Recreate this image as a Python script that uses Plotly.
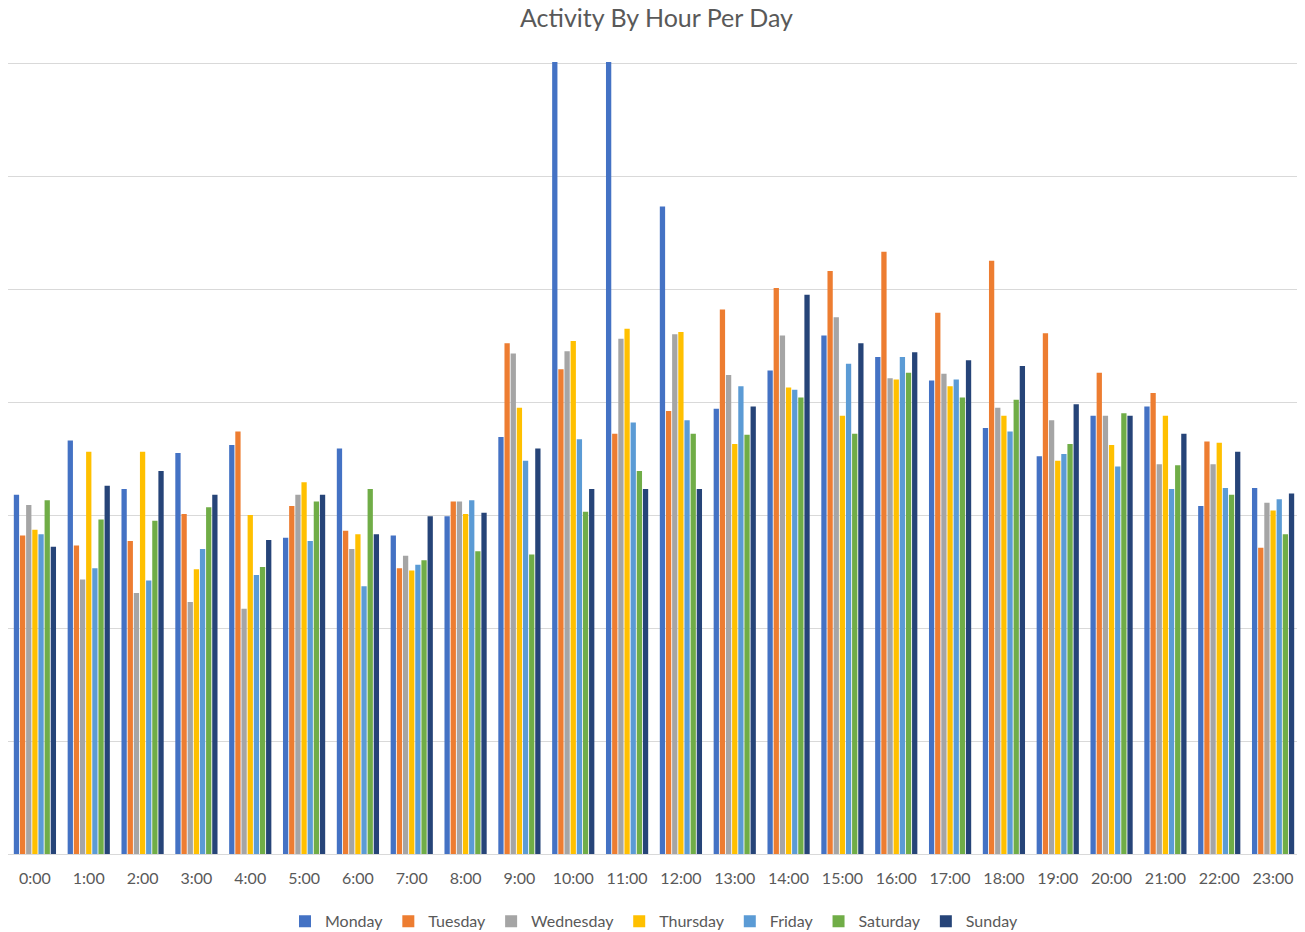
import plotly.graph_objects as go

# Hour categories along the x axis
hours = [f"{h}:00" for h in range(24)]

days = ["Monday", "Tuesday", "Wednesday", "Thursday", "Friday", "Saturday", "Sunday"]
day_colors = ["#4472C4", "#ED7D31", "#A5A5A5", "#FFC000", "#5B9BD5", "#70AD47", "#264478"]

# Activity per hour, one list per day
monday = [318, 366, 323, 355, 362, 280, 359, 282, 299, 369, 760, 740,
          573, 394, 428, 459, 440, 419, 377, 352, 388, 396, 308, 324]
tuesday = [282, 273, 277, 301, 374, 308, 286, 253, 312, 452, 429, 372,
           392, 482, 501, 516, 533, 479, 525, 461, 426, 408, 365, 271]
wednesday = [309, 243, 231, 223, 217, 318, 270, 264, 312, 443, 445, 456,
             460, 424, 459, 475, 421, 425, 395, 384, 388, 345, 345, 311]
thursday = [287, 356, 356, 252, 300, 329, 283, 251, 301, 395, 454, 465,
            462, 363, 413, 388, 420, 414, 388, 348, 362, 388, 364, 304]
friday = [283, 253, 242, 270, 247, 277, 237, 256, 313, 348, 367, 382,
          384, 414, 411, 434, 440, 420, 374, 354, 343, 323, 324, 314]
saturday = [313, 296, 295, 307, 254, 312, 323, 260, 268, 265, 303, 339,
            372, 371, 404, 372, 426, 404, 402, 363, 390, 344, 318, 283]
sunday = [272, 326, 339, 318, 278, 318, 283, 299, 302, 359, 323, 323,
          323, 396, 495, 452, 444, 437, 432, 398, 388, 372, 356, 319]

series = [monday, tuesday, wednesday, thursday, friday, saturday, sunday]

font_family = "Lato, 'Open Sans', sans-serif"
text_color = "#595959"

# the page body adds an 8px margin, so the figure is a bit smaller than the window
fig_w, fig_h = 1297, 924

fig = go.Figure()
for name, color, values in zip(days, day_colors, series):
    fig.add_trace(go.Bar(
        x=hours,
        y=values,
        name=name,
        marker=dict(color=color, line=dict(width=0)),
    ))

fig.update_layout(
    width=fig_w,
    height=fig_h,
    barmode="group",
    bargap=0.2,
    bargroupgap=0.14,
    plot_bgcolor="white",
    paper_bgcolor="white",
    margin=dict(l=0, r=5, t=54, b=78, autoexpand=False),
    title=dict(
        text="Activity By Hour Per Day",
        x=0.5,
        xanchor="center",
        y=1 - 1 / fig_h,
        yanchor="top",
        pad=dict(t=0),
        font=dict(family=font_family, size=25, color=text_color),
    ),
    font=dict(family=font_family, size=16, color=text_color),
    legend=dict(
        orientation="h",
        x=0.5,
        xanchor="center",
        y=-0.085,
        yanchor="middle",
        itemwidth=30,
        font=dict(family=font_family, size=16, color=text_color),
    ),
    showlegend=True,
)

fig.update_xaxes(
    showgrid=False,
    showline=False,
    ticks="",
    ticklabelstandoff=13,
    tickfont=dict(family=font_family, size=16, color=text_color),
)
fig.update_yaxes(
    range=[0, 701],
    dtick=100,
    showticklabels=False,
    showgrid=True,
    gridcolor="#D9D9D9",
    gridwidth=1,
    zeroline=True,
    zerolinecolor="#D9D9D9",
    zerolinewidth=1,
)

fig.write_html("out.html")
